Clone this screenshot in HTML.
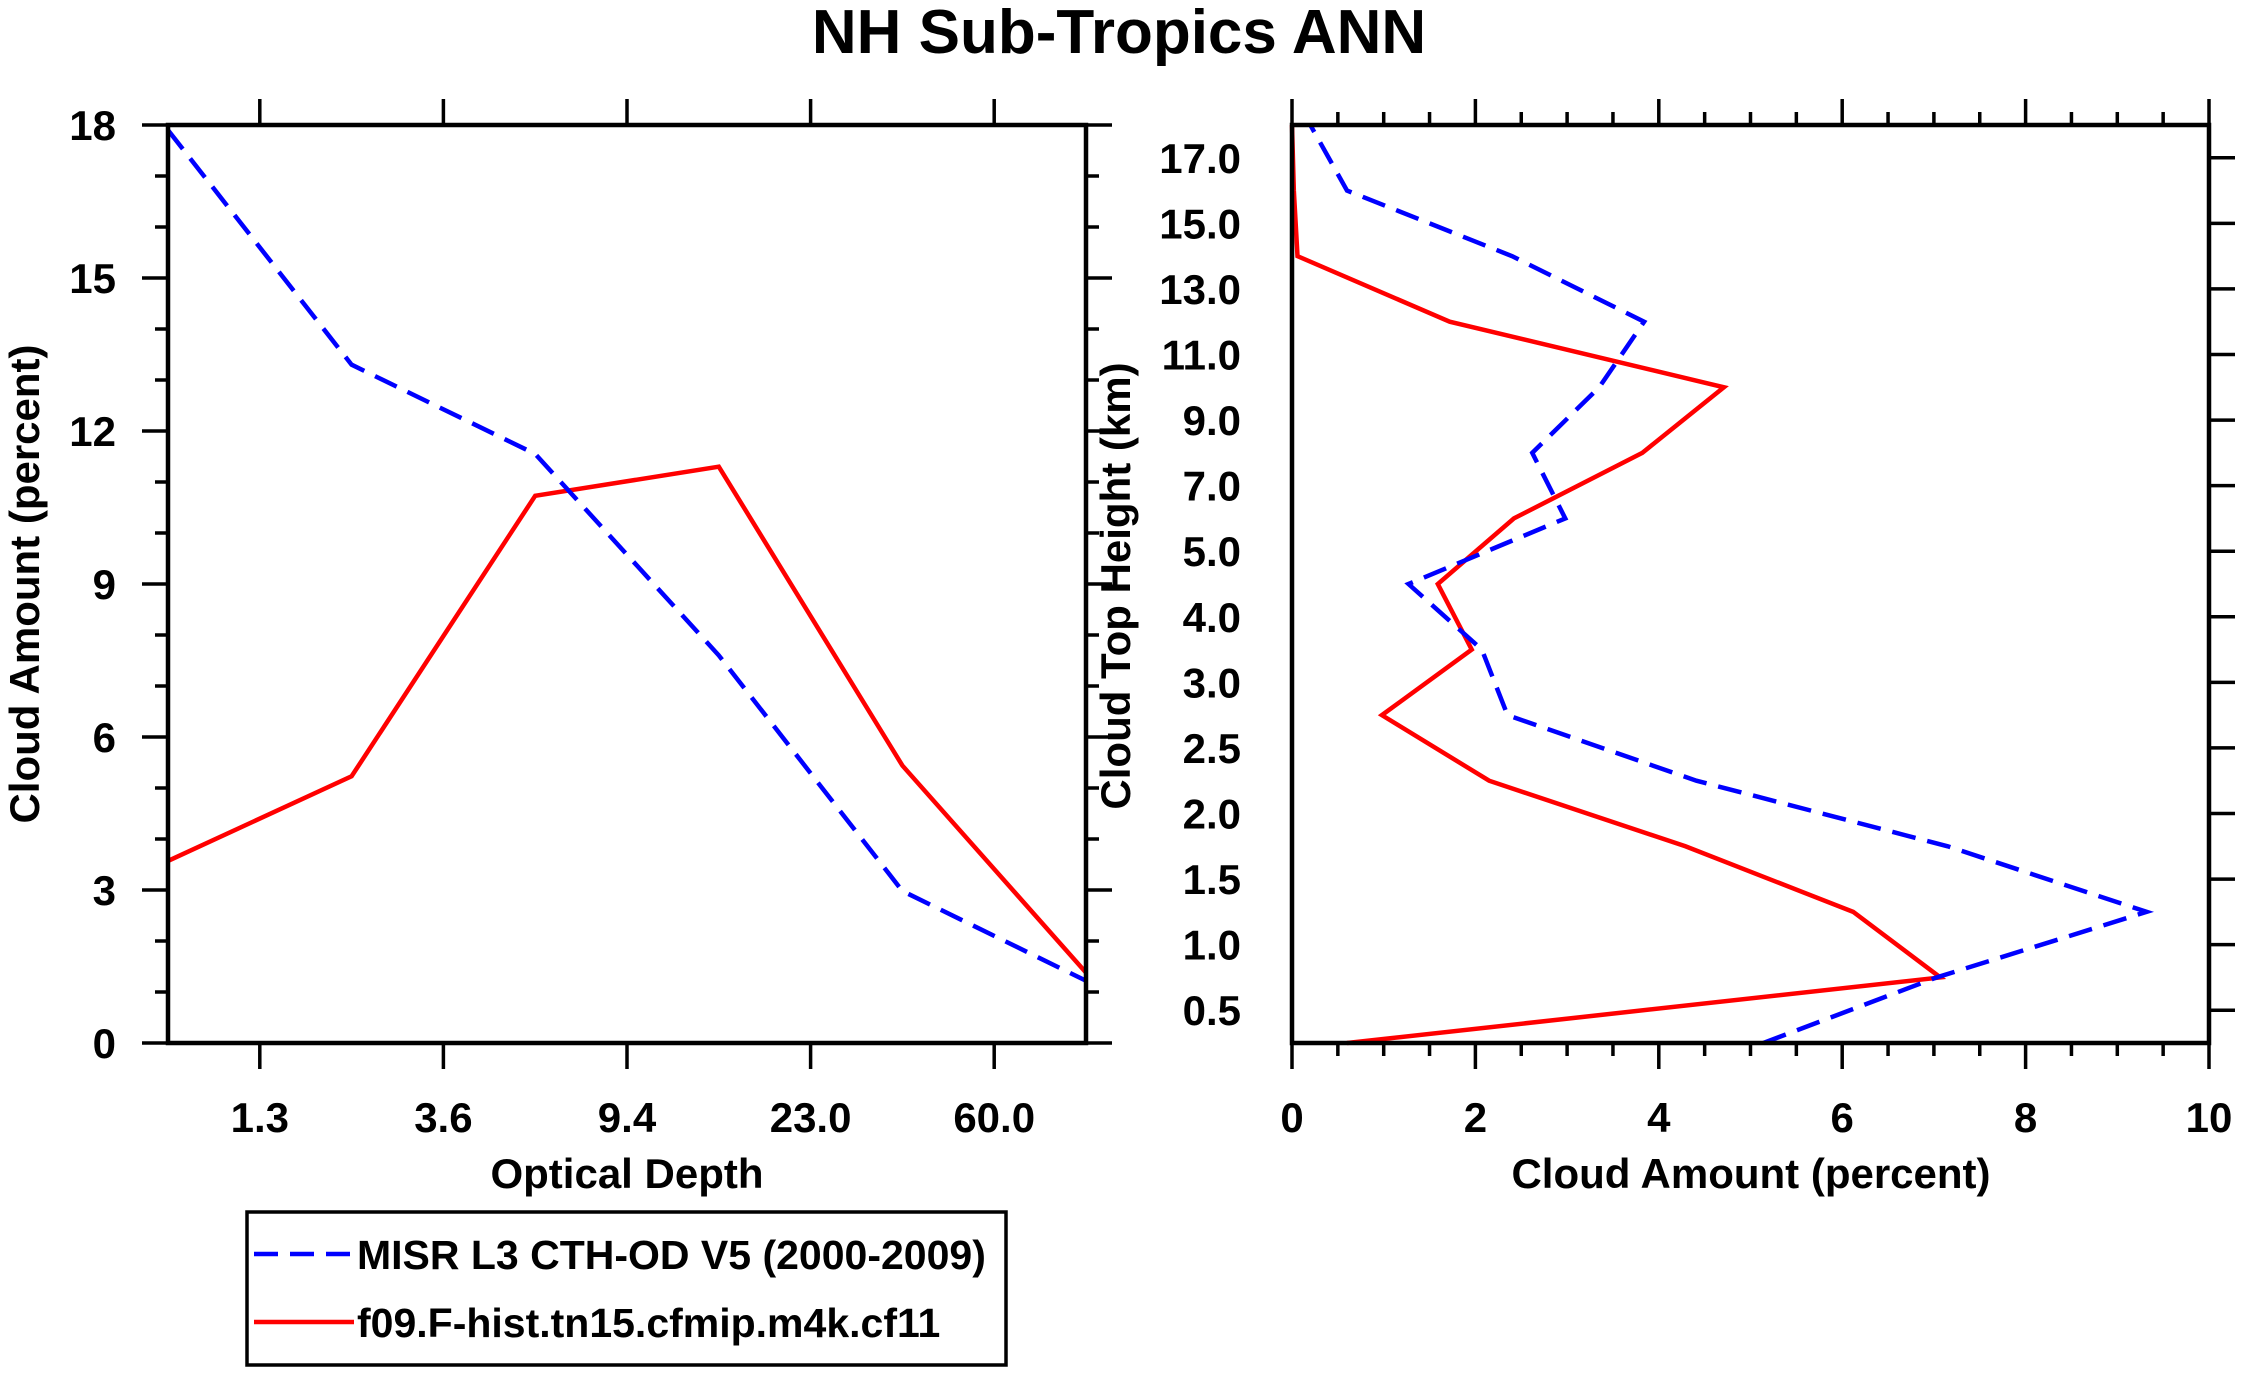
<!DOCTYPE html>
<html><head><meta charset="utf-8"><style>
html,body{margin:0;padding:0;background:#fff;}
svg{display:block;font-family:"Liberation Sans",Arial,sans-serif;font-weight:bold;}
</style></head><body>
<svg id="c" width="2241" height="1373" viewBox="0 0 2241 1373">
<text x="1119" y="53" font-size="62" text-anchor="middle">NH Sub-Tropics ANN</text>
<g id="left"></g>
<g id="right"></g>
<g>
<rect x="247" y="1212" width="759" height="153" fill="none" stroke="#000" stroke-width="3.5"/>
<line x1="254" y1="1254" x2="354" y2="1254" stroke="#0000ff" stroke-width="4.5" stroke-dasharray="24,12"/>
<text x="357" y="1269" font-size="41">MISR L3 CTH-OD V5 (2000-2009)</text>
<line x1="254" y1="1322" x2="354" y2="1322" stroke="#ff0000" stroke-width="4.5"/>
<text x="357" y="1337" font-size="41">f09.F-hist.tn15.cfmip.m4k.cf11</text>
</g>
</svg>
<script>
// Left panel data
const odTickLabels = ["1.3","3.6","9.4","23.0","60.0"];
const odMisr = [17.9, 13.3, 11.55, 7.6, 2.98, 1.22];
const odModel = [3.57, 5.23, 10.73, 11.3, 5.44, 1.38];
const leftYTicks = [0,3,6,9,12,15,18];
// Right panel data
const cthLabels = ["0.5","1.0","1.5","2.0","2.5","3.0","4.0","5.0","7.0","9.0","11.0","13.0","15.0","17.0"];
const cthMisr = [5.14, 7.03, 9.32, 7.15, 4.41, 2.35, 2.07, 1.27, 2.98, 2.62, 3.35, 3.84, 2.4, 0.6, 0.2];
const cthModel = [0.6, 7.07, 6.12, 4.29, 2.15, 0.98, 1.96, 1.59, 2.42, 3.82, 4.71, 1.72, 0.06, 0.02, 0.0];
const rightXTicks = [0,2,4,6,8,10];

const NS='http://www.w3.org/2000/svg';
function mk(parent, tag, attrs){const e=document.createElementNS(NS,tag);for(const k in attrs)e.setAttribute(k,attrs[k]);parent.appendChild(e);return e;}
const TOP=125, BOT=1043, FS=42;
const L={x0:168,x1:1086}, R={x0:1292,x1:2209};
const left=document.getElementById('left'), right=document.getElementById('right');

// ----- left panel
const lx=i=>L.x0+i*(L.x1-L.x0)/(odMisr.length-1);
const ly=v=>BOT-(v/18)*(BOT-TOP);
for(let v=0;v<=18;v++){
  const maj=v%3===0, len=maj?26:13, y=ly(v);
  let t=mk(left,'line',{x1:L.x0-len,y1:y,x2:L.x0,y2:y,stroke:'#000','stroke-width':3.5});
  
  
  t=mk(left,'line',{x1:L.x1,y1:y,x2:L.x1+len,y2:y,stroke:'#000','stroke-width':3.5});
  
  
}
leftYTicks.forEach(v=>{
  const t=mk(left,'text',{x:116,y:ly(v)+15,'font-size':FS,'text-anchor':'end'});
  t.textContent=v;
  
  
});
odTickLabels.forEach((s,i)=>{
  const x=lx(i+0.5);
  let t=mk(left,'line',{x1:x,y1:BOT,x2:x,y2:BOT+26,stroke:'#000','stroke-width':3.5});
  
  
  t=mk(left,'line',{x1:x,y1:TOP-26,x2:x,y2:TOP,stroke:'#000','stroke-width':3.5});
  
  
  const tx=mk(left,'text',{x:x,y:1132,'font-size':FS,'text-anchor':'middle'});
  tx.textContent=s;
  
  
});
function series(g,xs,ys,color,dash,name){
  const pts=xs.map((x,i)=>x+','+ys[i]).join(' ');
  const p=mk(g,'polyline',{points:pts,fill:'none',stroke:color,'stroke-width':4.5,'stroke-linejoin':'miter'});
  if(dash)p.setAttribute('stroke-dasharray','24,12');
  
  
}
series(left,odModel.map((v,i)=>lx(i)),odModel.map(ly),'#ff0000',false,'left-model-line');
series(left,odMisr.map((v,i)=>lx(i)),odMisr.map(ly),'#0000ff',true,'left-misr-line');
let fr=mk(left,'rect',{x:L.x0,y:TOP,width:L.x1-L.x0,height:BOT-TOP,fill:'none',stroke:'#000','stroke-width':4.5});


let lt=mk(left,'text',{x:627,y:1188,'font-size':FS,'text-anchor':'middle'});
lt.textContent='Optical Depth';


lt=mk(left,'text',{x:0,y:0,'font-size':FS,'text-anchor':'middle',transform:'translate(39,584) rotate(-90)'});
lt.textContent='Cloud Amount (percent)';



// ----- right panel
const rx=v=>R.x0+(v/10)*(R.x1-R.x0);
const ry=k=>BOT-k*(BOT-TOP)/14;
for(let v=0;v<=20;v++){
  const val=v*0.5, maj=v%4===0, len=maj?26:13, x=rx(val);
  let t=mk(right,'line',{x1:x,y1:BOT,x2:x,y2:BOT+len,stroke:'#000','stroke-width':3.5});
  
  
  t=mk(right,'line',{x1:x,y1:TOP-len,x2:x,y2:TOP,stroke:'#000','stroke-width':3.5});
  
  
}
rightXTicks.forEach(v=>{
  const t=mk(right,'text',{x:rx(v),y:1132,'font-size':FS,'text-anchor':'middle'});
  t.textContent=v;
  
  
});
cthLabels.forEach((s,i)=>{
  const y=ry(i+0.5);
  const t=mk(right,'text',{x:1241,y:y+15,'font-size':FS,'text-anchor':'end'});
  t.textContent=s;
  
  
  const l=mk(right,'line',{x1:R.x1,y1:y,x2:R.x1+26,y2:y,stroke:'#000','stroke-width':3.5});
  
  
});
series(right,cthModel.map(rx),cthModel.map((v,i)=>ry(i)),'#ff0000',false,'right-model-line');
series(right,cthMisr.map(rx),cthMisr.map((v,i)=>ry(i)),'#0000ff',true,'right-misr-line');
fr=mk(right,'rect',{x:R.x0,y:TOP,width:R.x1-R.x0,height:BOT-TOP,fill:'none',stroke:'#000','stroke-width':4.5});


lt=mk(right,'text',{x:1751,y:1188,'font-size':FS,'text-anchor':'middle'});
lt.textContent='Cloud Amount (percent)';


lt=mk(right,'text',{x:0,y:0,'font-size':FS,'text-anchor':'middle',transform:'translate(1130,586) rotate(-90)'});
lt.textContent='Cloud Top Height (km)';


</script>
</body></html>
